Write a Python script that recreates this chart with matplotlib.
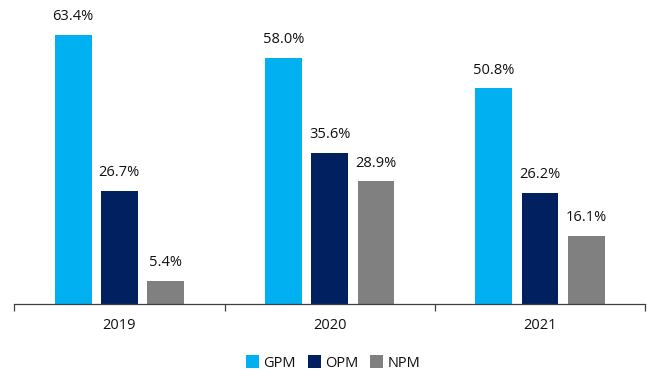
import numpy as np
import matplotlib.pyplot as plt

years = ["2019", "2020", "2021"]
series = ["GPM", "OPM", "NPM"]
gpm = [63.4, 58.0, 50.8]
opm = [26.7, 35.6, 26.2]
npm = [5.4, 28.9, 16.1]
colors = ["#00B0F0", "#002060", "#808080"]

plt.rcParams["font.family"] = ["Open Sans", "DejaVu Sans"]

fig = plt.figure(figsize=(6.47, 3.75), dpi=100)
ax = fig.add_axes([0.022, 0.1893, 0.975, 0.792])

x = np.arange(len(years))
width = 0.175
step = 0.22
for i, (name, vals) in enumerate(zip(series, [gpm, opm, npm])):
    pos = x + (i - 1) * step
    bars = ax.bar(pos, vals, width, color=colors[i], label=name)
    for b, v in zip(bars, vals):
        ax.text(b.get_x() + b.get_width() / 2, v + 2.5, f"{v:.1f}%",
                ha="center", va="bottom", fontsize=10.5, color="#111111")

ax.set_xlim(-0.5, 2.5)
ax.set_ylim(0, 70)
ax.set_yticks([])
for s in ["top", "right", "left"]:
    ax.spines[s].set_visible(False)
ax.spines["bottom"].set_color("#404040")
ax.spines["bottom"].set_linewidth(0.9)

# group dividers as ticks, labels centred under each group
ax.set_xticks([-0.5, 0.5, 1.5, 2.5])
ax.set_xticklabels([])
ax.tick_params(axis="x", length=5, width=0.9, color="#404040")
ax.set_xticks(x, minor=True)
ax.set_xticklabels(years, minor=True, fontsize=10.5, color="#111111")
ax.tick_params(axis="x", which="minor", length=0, pad=10)

fig.legend(loc="center", bbox_to_anchor=(0.515, 0.032), ncol=3, frameon=False,
           fontsize=10.5, handlelength=0.9, handleheight=0.9, handletextpad=0.3,
           columnspacing=0.8, labelcolor="#111111")

fig.savefig("out.png", dpi=100)
